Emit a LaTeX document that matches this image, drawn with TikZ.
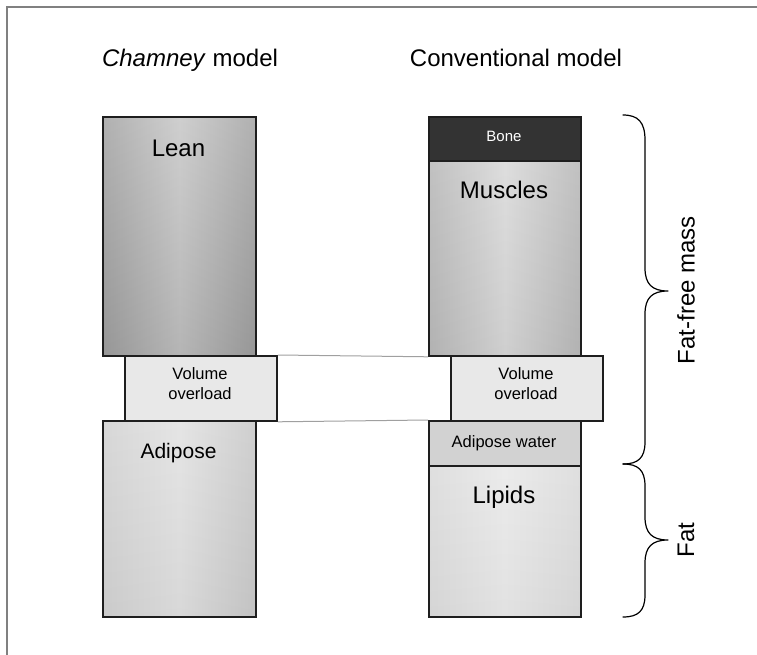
\documentclass[tikz,border=0pt]{standalone}
\usepackage{fontspec}
\setmainfont{Liberation Sans}
\definecolor{boxline}{HTML}{1E1E1E}
\definecolor{framegray}{HTML}{808080}
\definecolor{linkgray}{HTML}{A0A0A0}
\definecolor{leanA}{HTML}{A8A8A8}
\definecolor{leanB}{HTML}{CACACA}
\definecolor{musA}{HTML}{BDBDBD}
\definecolor{musB}{HTML}{DCDCDC}
\definecolor{adA}{HTML}{D6D6D6}
\definecolor{adB}{HTML}{E4E4E4}
\definecolor{adC}{HTML}{CDCDCD}
\definecolor{lipA}{HTML}{DEDEDE}
\definecolor{lipB}{HTML}{EBEBEB}
\definecolor{volfill}{HTML}{E8E8E8}
\definecolor{awfill}{HTML}{D2D2D2}
\definecolor{bonefill}{HTML}{333333}
\begin{document}
\begin{tikzpicture}[x=1pt,y=-1pt,
  box/.style={draw=boxline, line width=1.8pt, inner sep=0pt, anchor=north west},
  vshade/.style={path picture={\shade[top color=white, bottom color=black, opacity=#1]
      (path picture bounding box.south west) rectangle (path picture bounding box.north east);}},
  bigtxt/.style={font=\fontsize{24}{28}\selectfont, inner sep=0pt, anchor=base},
  midtxt/.style={font=\fontsize{16.5}{20}\selectfont, inner sep=0pt},
  link/.style={draw=linkgray, line width=1pt},
  bracepath/.style={line width=1.2pt, line cap=round, line join=round}
]
\useasboundingbox (0,0) rectangle (757,655);
% frame
\draw[framegray, line width=2pt] (6.5,655) -- (6.5,7.5) -- (757,7.5);

% titles
\node[bigtxt] (t1) at (190,67) {\textit{Chamney} model};
\node[bigtxt] (t2) at (516,67) {Conventional model};

% Chamney column
\node[box, minimum width=153pt, minimum height=239pt, shade, left color=leanA, right color=leanA, middle color=leanB, vshade=0.1] (lean) at (102,116) {};
\node[box, minimum width=153pt, minimum height=196pt, shade, left color=adA, right color=adC, middle color=adB, vshade=0.05] (adipose) at (102,420) {};
\node[box, minimum width=152pt, minimum height=65pt, fill=volfill] (vol1) at (124,355) {};

% Conventional column
\node[box, minimum width=152pt, minimum height=44pt, fill=bonefill] (bone) at (428,116) {};
\node[box, minimum width=152pt, minimum height=195pt, shade, left color=musA, right color=musA, middle color=musB, vshade=0.06] (muscles) at (428,160) {};
\node[box, minimum width=152pt, minimum height=45pt, fill=awfill] (awater) at (428,420) {};
\node[box, minimum width=152pt, minimum height=151pt, shade, left color=lipA, right color=lipA, middle color=lipB, vshade=0.04] (lipids) at (428,465) {};
\node[box, minimum width=152pt, minimum height=65pt, fill=volfill] (vol2) at (450,355) {};

% links
\draw[link] (vol1.north east) -- (muscles.south west);
\draw[link] (vol1.south east) -- (awater.north west);

% labels
\node[bigtxt] (leanl) at (178.5,157) {Lean};
\node[bigtxt, font=\fontsize{21}{25}\selectfont] (adl) at (178.5,458) {Adipose};
\node[midtxt, align=center] (vol1l) at (200,384) {Volume\\overload};
\node[bigtxt, font=\fontsize{15}{18}\selectfont, text=white] (bonel) at (504,142) {Bone};
\node[bigtxt] (musl) at (504,198) {Muscles};
\node[midtxt, align=center] (vol2l) at (526,384) {Volume\\overload};
\node[midtxt, anchor=base] (awl) at (504,447) {Adipose water};
\node[bigtxt] (lipl) at (504,503) {Lipids};

% braces
\coordinate (ffTop) at (623,115);
\coordinate (ffTip) at (668,291);
\coordinate (ffBot) at (623,464);
\coordinate (fatTip) at (668,540);
\coordinate (fatBot) at (623,617);
\draw[bracepath] (ffTop) .. controls (638,115) and (645,122) .. (645,140)
  -- (645,268) .. controls (645,284) and (652,291) .. (ffTip)
  .. controls (652,291) and (645,298) .. (645,314)
  -- (645,442) .. controls (645,458) and (638,464) .. (ffBot);
\draw[bracepath] (ffBot) .. controls (638,464) and (645,470) .. (645,486)
  -- (645,517) .. controls (645,533) and (652,540) .. (fatTip)
  .. controls (652,540) and (645,547) .. (645,563)
  -- (645,595) .. controls (645,611) and (638,617) .. (fatBot);
\node[font=\fontsize{24}{28}\selectfont, rotate=90, inner sep=0pt] (ffl) at (686,290) {Fat-free mass};
\node[font=\fontsize{24}{28}\selectfont, rotate=90, inner sep=0pt] (fatl) at (686,540) {Fat};
\end{tikzpicture}
\end{document}
